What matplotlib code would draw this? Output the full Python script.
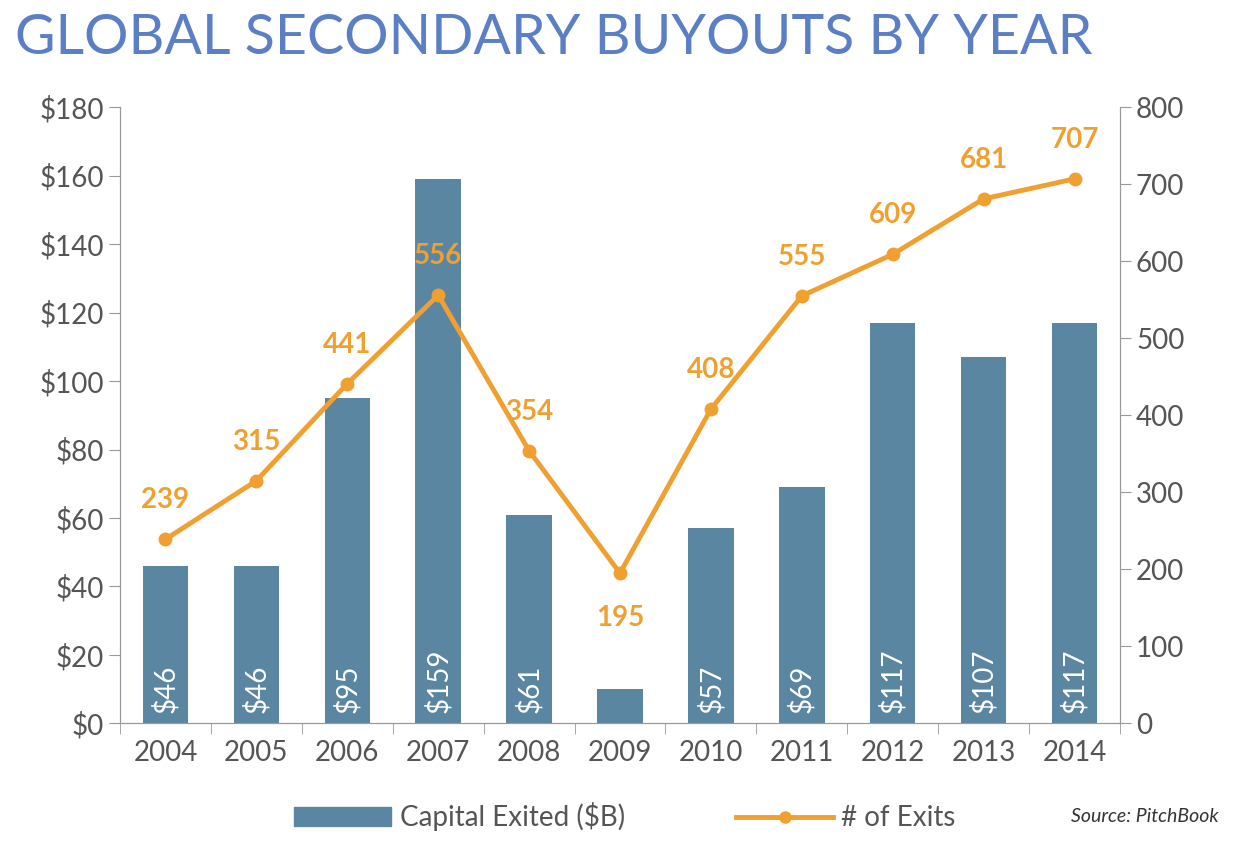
import matplotlib
matplotlib.use("Agg")
import matplotlib.pyplot as plt
import numpy as np

years = ["2004","2005","2006","2007","2008","2009","2010","2011","2012","2013","2014"]
capital = [46, 46, 95, 159, 61, 10, 57, 69, 117, 107, 117]
capital_labels = ["$46","$46","$95","$159","$61","","$57","$69","$117","$107","$117"]
exits = [239, 315, 441, 556, 354, 195, 408, 555, 609, 681, 707]

plt.rcParams['font.family'] = ['Lato', 'DejaVu Sans']
fig = plt.figure(figsize=(12.5, 8.51), dpi=100)
ax = fig.add_axes([0.096, 0.150, 0.80, 0.724])
x = np.arange(len(years))
bar_c = '#5a86a1'; org = '#f0a030'; grey = '#555555'
ax.bar(x, capital, width=0.5, color=bar_c, zorder=2)
for xi, lab in zip(x, capital_labels):
    if lab:
        ax.text(xi, 3, lab, rotation=90, ha='center', va='bottom', color='white', fontsize=20)
ax.set_ylim(0, 180)
ax.set_xlim(-0.5, len(years) - 0.5)
ax.set_yticks(range(0, 181, 20))
ax.set_yticklabels([f"${v}" for v in range(0, 181, 20)])
ax.set_xticks(x)
ax.set_xticklabels(years)
ax.set_xticks(np.arange(-0.5, len(years)), minor=True)
ax.tick_params(axis='x', which='major', length=0, pad=12)
ax.tick_params(axis='x', which='minor', length=8, color='#999999')
ax.tick_params(axis='y', length=8, color='#999999')
ax.tick_params(labelsize=20, labelcolor=grey)
ax.spines['top'].set_visible(False)
for s in ['left', 'bottom', 'right']:
    ax.spines[s].set_color('#999999')

ax2 = ax.twinx()
ax2.plot(x, exits, color=org, lw=3.5, marker='o', ms=9, zorder=3)
ax2.set_ylim(0, 800)
ax2.set_yticks(range(0, 801, 100))
ax2.tick_params(labelsize=20, labelcolor=grey, length=8, color='#999999')
ax2.spines['top'].set_visible(False)
for s in ['left', 'bottom', 'right']:
    ax2.spines[s].set_color('#999999')
for xi, v in zip(x, exits):
    dy = -32 if v == 195 else 28
    ax2.annotate(str(v), (xi, v), xytext=(0, dy), textcoords='offset points',
                 ha='center', va='center', color=org, fontsize=20, fontweight='bold')

fig.text(0.012, 0.955, "GLOBAL SECONDARY BUYOUTS BY YEAR", fontsize=40, color='#5b7fc4',
         ha='left', va='center', fontweight='normal')

from matplotlib.patches import Patch
from matplotlib.lines import Line2D
handles = [Patch(color=bar_c, label='Capital Exited ($B)'),
           Line2D([], [], color=org, lw=3.5, marker='o', ms=8, label='# of Exits')]
leg = fig.legend(handles=handles, loc='center', bbox_to_anchor=(0.5, 0.04), ncol=2,
                 frameon=False, fontsize=20, handlelength=3.5, columnspacing=4, handletextpad=0.3)
for t in leg.get_texts():
    t.set_color(grey)
fig.text(0.975, 0.04, "Source: PitchBook", fontsize=14, style='italic', color='#333333',
         ha='right', va='center')
fig.savefig("out.png", dpi=100)
